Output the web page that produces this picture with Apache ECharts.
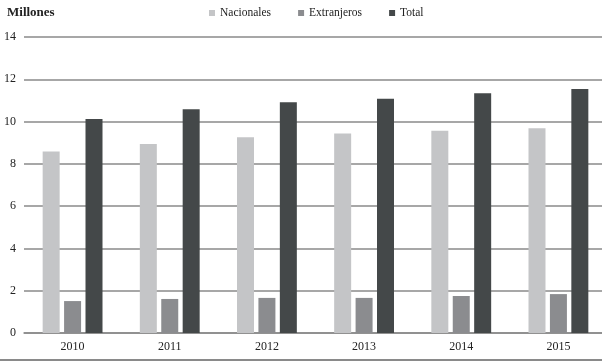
<!DOCTYPE html>
<html>
<head>
<meta charset="utf-8">
<script src="https://cdn.jsdelivr.net/npm/echarts@6/dist/echarts.min.js"></script>
<style>
  html, body { margin: 0; padding: 0; background: #fff; }
  #chart { width: 602px; height: 364px; }
</style>
</head>
<body>
<div id="chart"></div>
<script>
// years and values (millones)
const years = ['2010', '2011', '2012', '2013', '2014', '2015']
const nacionales = [8.58, 8.94, 9.26, 9.43, 9.56, 9.68]
const extranjeros = [1.51, 1.61, 1.66, 1.66, 1.75, 1.84]
const total = [10.12, 10.58, 10.91, 11.08, 11.34, 11.54]

const seriesNames = ['Nacionales', 'Extranjeros', 'Total']
const seriesColors = ['#c4c5c7', '#8b8c8f', '#444849']

const font = '"Liberation Serif", "DejaVu Serif", serif'

const chart = echarts.init(document.getElementById('chart'))

const makeBar = function (name, data, color) {
  return {
    name: name,
    type: 'bar',
    data: data,
    barWidth: 17,
    barGap: '26%',
    itemStyle: { color: color },
    emphasis: { disabled: true }
  }
}

const options = {
  animation: false,
  textStyle: { fontFamily: font },
  color: seriesColors,
  title: {
    text: 'Millones',
    left: 2,
    top: 1,
    textStyle: { fontFamily: font, fontSize: 13, fontWeight: 'bold', color: '#222' }
  },
  legend: {
    left: 204,
    top: 2,
    itemWidth: 6,
    itemHeight: 6,
    itemGap: 27,
    icon: 'rect',
    textStyle: { fontFamily: font, fontSize: 11.5, color: '#222' },
    data: seriesNames
  },
  grid: {
    left: 24,
    top: 37,
    width: 583,
    height: 296,
    outerBoundsMode: 'none'
  },
  xAxis: {
    type: 'category',
    data: years,
    axisTick: { show: false },
    axisLine: { lineStyle: { color: '#8a8a8a', width: 1.5 } },
    axisLabel: { fontFamily: font, fontSize: 12, color: '#222', margin: 8 }
  },
  yAxis: {
    type: 'value',
    min: 0,
    max: 14,
    interval: 2,
    axisLine: { show: false },
    axisTick: { show: false },
    axisLabel: { fontFamily: font, fontSize: 12, color: '#222', margin: 8 },
    splitLine: { lineStyle: { color: '#8a8a8a', width: 1.5 } }
  },
  graphic: [{
    type: 'line',
    shape: { x1: 0, y1: 360, x2: 602, y2: 360 },
    style: { stroke: '#8a8a8a', lineWidth: 2 }
  }],
  series: [
    makeBar(seriesNames[0], nacionales, seriesColors[0]),
    makeBar(seriesNames[1], extranjeros, seriesColors[1]),
    makeBar(seriesNames[2], total, seriesColors[2])
  ]
}

chart.setOption(options)
</script>
</body>
</html>
